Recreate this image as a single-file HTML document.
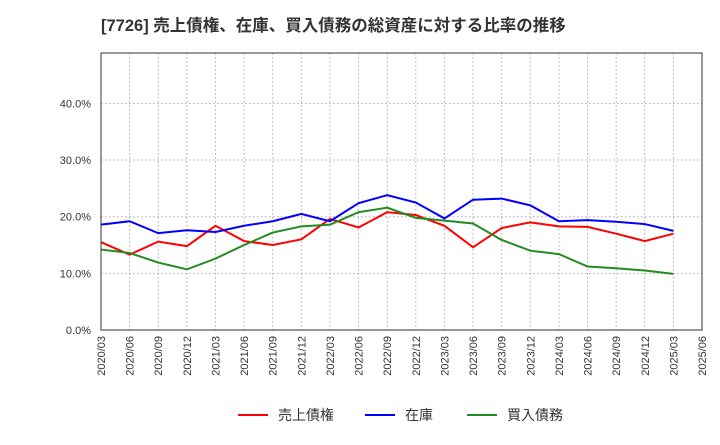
<!DOCTYPE html>
<html><head><meta charset="utf-8"><style>
body{margin:0;background:#fff;font-family:"Liberation Sans","Noto Sans CJK JP",sans-serif;}
</style></head><body>
<svg width="720" height="440" xmlns="http://www.w3.org/2000/svg" id="c">
<text x="101" y="31" font-size="16.5" font-weight="bold" fill="#333" font-family="Liberation Sans, Noto Sans CJK JP, sans-serif">[7726]  売上債権、在庫、買入債務の総資産に対する比率の推移</text>
<g id="grid"></g><g id="series"></g><g id="axes"></g>
<g font-size="14" fill="#333" font-family="Liberation Sans, Noto Sans CJK JP, sans-serif">
<line x1="238" y1="415" x2="268" y2="415" stroke="#f00" stroke-width="2"/><text x="278" y="420">売上債権</text>
<line x1="365" y1="415" x2="395" y2="415" stroke="#00f" stroke-width="2"/><text x="405" y="420">在庫</text>
<line x1="467" y1="415" x2="497" y2="415" stroke="#228B22" stroke-width="2"/><text x="507" y="420">買入債務</text>
</g>
</svg>
<script>
const categories=["2020/03","2020/06","2020/09","2020/12","2021/03","2021/06","2021/09","2021/12","2022/03","2022/06","2022/09","2022/12","2023/03","2023/06","2023/09","2023/12","2024/03","2024/06","2024/09","2024/12","2025/03","2025/06"];
const receivables=[15.5,13.3,15.6,14.8,18.4,15.7,15.0,16.0,19.6,18.1,20.8,20.3,18.4,14.6,18.0,19.0,18.3,18.2,17.0,15.7,17.0];
const inventory=[18.6,19.2,17.1,17.6,17.3,18.4,19.2,20.5,19.2,22.4,23.8,22.5,19.7,23.0,23.2,22.0,19.2,19.4,19.1,18.7,17.5];
const payables=[14.2,13.6,11.9,10.7,12.6,15.0,17.2,18.3,18.6,20.8,21.6,19.8,19.3,18.8,15.9,14.0,13.4,11.2,10.9,10.5,9.9];
const yTicks=[0,10,20,30,40];
const yTickLabels=["0.0%","10.0%","20.0%","30.0%","40.0%"];
const L=101,R=702,T=53,B=330,YMAX=48.9;
const ns="http://www.w3.org/2000/svg";
const xs=i=>L+(R-L)*i/(categories.length-1);
const ys=v=>B-(B-T)*v/YMAX;
function mk(tag,attrs,parent){const e=document.createElementNS(ns,tag);for(const k in attrs)e.setAttribute(k,attrs[k]);parent.appendChild(e);return e;}
const grid=document.getElementById('grid'),axes=document.getElementById('axes'),ser=document.getElementById('series');
categories.forEach((c,i)=>{
 const x=xs(i);
 const g=mk('line',{x1:x,y1:T,x2:x,y2:B,stroke:'#aaa','stroke-dasharray':'1.5,2.5','stroke-width':1},grid);
 
 
 const t=mk('text',{x:0,y:0,transform:`translate(${x+4},336) rotate(-90)`,'text-anchor':'end','font-size':11,fill:'#333'},axes);
 t.textContent=c;
 
 
});
yTicks.forEach((v,i)=>{
 const y=ys(v);
 const g=mk('line',{x1:L,y1:y,x2:R,y2:y,stroke:'#aaa','stroke-dasharray':'1.5,2.5','stroke-width':1},grid);
 
 
 const t=mk('text',{x:L-10,y:y+4,'text-anchor':'end','font-size':11,fill:'#333'},axes);
 t.textContent=yTickLabels[i];
 
 
});
const fr=mk('rect',{x:L,y:T,width:R-L,height:B-T,fill:'none',stroke:'#333','stroke-width':1},axes);


[[receivables,'#f00','receivables-line'],[inventory,'#00f','inventory-line'],[payables,'#228B22','payables-line']].forEach(([d,col,name])=>{
 const p=mk('polyline',{points:d.map((v,i)=>xs(i)+','+ys(v)).join(' '),fill:'none',stroke:col,'stroke-width':2},ser);
 
 
});
</script>
</body></html>
